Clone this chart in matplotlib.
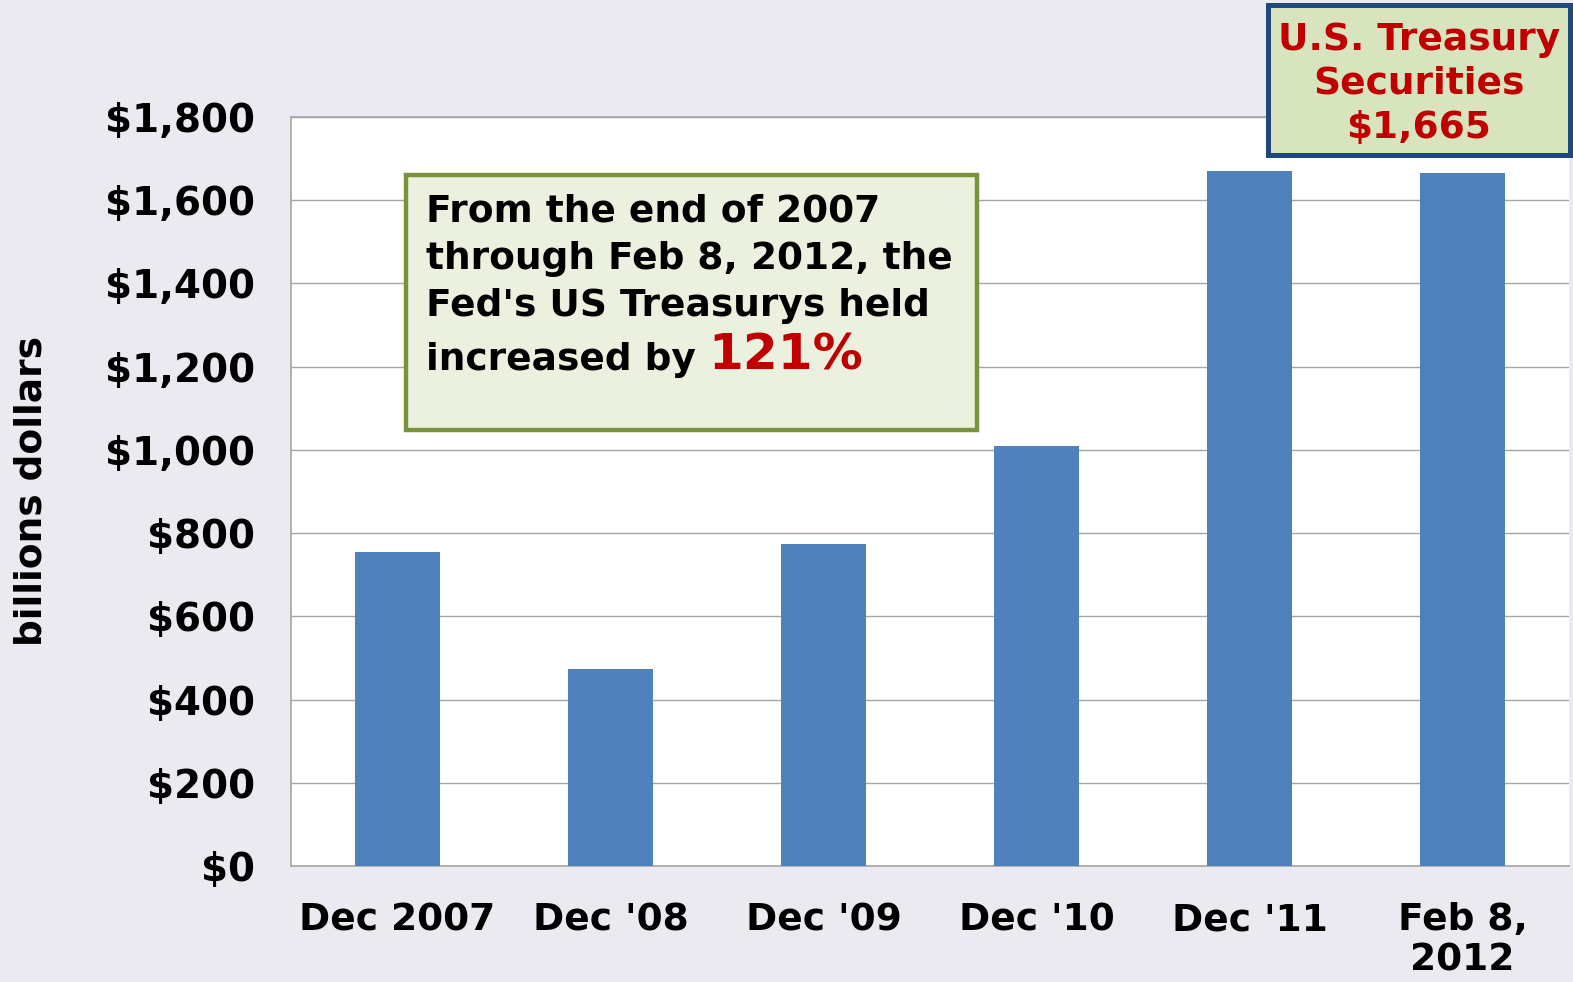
import matplotlib
matplotlib.use("Agg")
import matplotlib.pyplot as plt
from matplotlib.patches import Rectangle

# Federal Reserve holdings of US Treasury securities, billions of dollars
categories = ["Dec 2007", "Dec '08", "Dec '09", "Dec '10", "Dec '11", "Feb 8,\n2012"]
values = [755, 473, 774, 1009, 1670, 1665]
y_ticks = [0, 200, 400, 600, 800, 1000, 1200, 1400, 1600, 1800]

BG = "#ECEAF1"
BAR = "#4F81BD"
RED = "#C00000"

plt.rcParams["font.family"] = ["DejaVu Sans"]
plt.rcParams["font.weight"] = "bold"

fig = plt.figure(figsize=(15.73, 9.82), dpi=100, facecolor=BG)
ax = fig.add_axes([291 / 1573, 1 - 866 / 982, 1278 / 1573, 749 / 982])
ax.set_facecolor("white")

x = list(range(len(categories)))
ax.bar(x, values, width=0.4, color=BAR, zorder=3)

ax.set_xlim(-0.5, len(categories) - 0.5)
ax.set_ylim(0, 1800)
ax.set_yticks(y_ticks)
ax.set_yticklabels([f"${v:,}" for v in y_ticks], fontsize=28, fontweight="bold")
ax.set_xticks(x)
ax.set_xticklabels(categories, fontsize=27, fontweight="bold", linespacing=1.15)
ax.tick_params(axis="both", length=0)
ax.tick_params(axis="y", pad=26)
ax.tick_params(axis="x", pad=26)
ax.yaxis.grid(True, color="#A6A6A6", linewidth=1.0, zorder=0)
for side in ["left", "bottom", "top"]:
    ax.spines[side].set_color("#A6A6A6")
    ax.spines[side].set_linewidth(1.2)
ax.spines["right"].set_visible(False)

ax.set_ylabel("billions dollars", fontsize=27, fontweight="bold", va="center")
ax.yaxis.set_label_coords(-0.2027, 0.5)

# Summary callout
pct = round((values[-1] / values[0] - 1) * 100)
fig.patches.append(Rectangle((406 / 1573, 1 - 430 / 982), 571 / 1573, 255 / 982,
                             transform=fig.transFigure, facecolor="#EBF1DE",
                             edgecolor="#77933C", linewidth=3.2, zorder=5))
lines = ["From the end of 2007", "through Feb 8, 2012, the", "Fed's US Treasurys held"]
for i, ln in enumerate(lines):
    fig.text(426 / 1573, 1 - (222 + 47 * i) / 982, ln, fontsize=27, fontweight="bold",
             va="baseline", ha="left", zorder=6)
fig.text(426 / 1573, 1 - 370 / 982, "increased by", fontsize=27, fontweight="bold",
         va="baseline", ha="left", zorder=6)
fig.text(708 / 1573, 1 - 370 / 982, f"{pct}%", fontsize=36, fontweight="bold",
         color=RED, va="baseline", ha="left", zorder=6)

# Latest value callout
fig.patches.append(Rectangle((1268 / 1573, 1 - 155 / 982), 302 / 1573, 150 / 982,
                             transform=fig.transFigure, facecolor="#D7E4BD",
                             edgecolor="#1F497D", linewidth=3.6, zorder=5))
for i, ln in enumerate(["U.S. Treasury", "Securities", f"${values[-1]:,}"]):
    fig.text(1419 / 1573, 1 - (50 + 44 * i) / 982, ln, fontsize=27, fontweight="bold",
             color=RED, va="baseline", ha="center", zorder=6)

fig.savefig("out.png", dpi=100, facecolor=BG)
